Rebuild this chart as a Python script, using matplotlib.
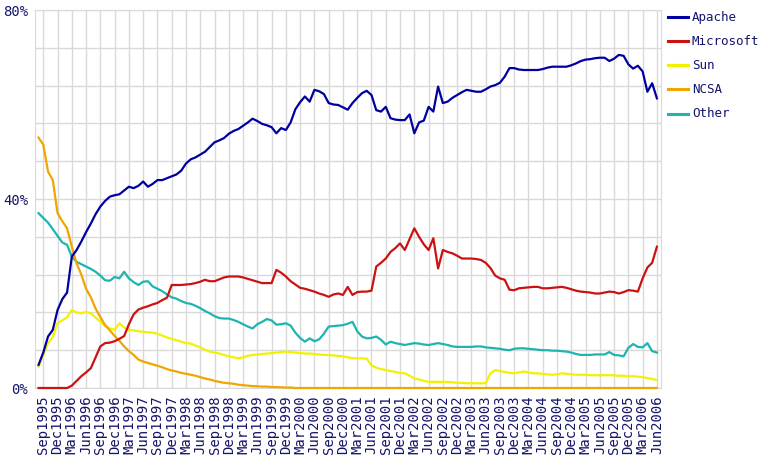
import matplotlib
matplotlib.use("Agg")
import matplotlib.pyplot as plt
from matplotlib.lines import Line2D

# monthly share (%), Aug 1995 .. Jun 2006
APACHE = [
    4.9, 7.5, 10.9, 12.3, 16.5, 18.8, 20.2, 27.8, 29.2, 31.0, 33.0, 34.8,
    36.8, 38.4, 39.6, 40.5, 40.8, 41.0, 41.8, 42.6, 42.3, 42.8, 43.7, 42.6,
    43.2, 44.0, 44.0, 44.4, 44.8, 45.2, 46.0, 47.5, 48.4, 48.8, 49.4, 50.0,
    51.0, 52.0, 52.4, 52.9, 53.8, 54.4, 54.8, 55.5, 56.2, 57.0, 56.5, 55.9,
    55.6, 55.2, 53.9, 55.0, 54.6, 56.2, 59.0, 60.5, 61.7, 60.6, 63.1, 62.8,
    62.2, 60.3, 60.0, 59.9, 59.4, 58.9, 60.3, 61.4, 62.4, 62.9, 62.0, 58.8,
    58.5, 59.5, 57.1, 56.8, 56.7, 56.7, 57.9, 53.9, 56.2, 56.6, 59.5, 58.5,
    63.8, 60.3, 60.6, 61.4, 62.0, 62.6, 63.1, 62.9, 62.7, 62.7, 63.2, 63.8,
    64.1, 64.6, 65.9, 67.7, 67.7, 67.4, 67.3, 67.3, 67.3, 67.3, 67.5, 67.8,
    68.0, 68.0, 68.0, 68.0, 68.3, 68.7, 69.2, 69.5, 69.6, 69.8, 69.9, 69.9,
    69.2, 69.7, 70.5, 70.3, 68.5, 67.6, 68.2, 67.0, 62.7, 64.5, 61.3,
]
MICROSOFT = [
    0, 0, 0, 0, 0, 0, 0, 0.5, 1.5, 2.5, 3.3, 4.2,
    6.5, 8.8, 9.5, 9.6, 9.9, 10.4, 11.0, 13.5, 15.6, 16.6, 17.0, 17.3,
    17.7, 18.0, 18.6, 19.1, 21.8, 21.8, 21.8, 21.9, 22.0, 22.2, 22.5, 22.9,
    22.6, 22.6, 23.0, 23.4, 23.6, 23.6, 23.6, 23.4, 23.1, 22.8, 22.5, 22.2,
    22.2, 22.2, 25.0, 24.4, 23.6, 22.6, 21.9, 21.2, 21.0, 20.7, 20.4, 20.0,
    19.7, 19.3, 19.8, 20.0, 19.7, 21.4, 19.7, 20.3, 20.4, 20.4, 20.6, 25.7,
    26.5, 27.4, 28.8, 29.6, 30.6, 29.2, 31.5, 33.8, 32.0, 30.4, 29.2, 31.7,
    25.3, 29.2, 28.8, 28.5, 28.0, 27.4, 27.4, 27.4, 27.3, 27.1, 26.5, 25.4,
    23.8, 23.2, 22.9, 20.8, 20.7, 21.1, 21.2, 21.3, 21.4, 21.4, 21.1, 21.1,
    21.2, 21.3, 21.4, 21.2, 20.9, 20.6, 20.4, 20.3, 20.2, 20.0, 20.0, 20.2,
    20.4, 20.3, 20.0, 20.3, 20.7, 20.6, 20.4, 23.2, 25.5, 26.5, 29.9,
]
SUN = [
    4.5, 7.0, 9.5, 10.8, 13.8, 14.3, 15.0, 16.5, 16.0, 15.8, 16.1, 15.8,
    14.9, 14.0, 13.1, 12.6, 12.3, 13.7, 12.8, 12.3, 12.2, 12.0, 11.9, 11.8,
    11.7, 11.5, 11.1, 10.7, 10.4, 10.1, 9.8, 9.5, 9.4, 9.0, 8.6, 8.1,
    7.7, 7.5, 7.3, 7.0, 6.7, 6.5, 6.3, 6.5, 6.8, 7.0, 7.1, 7.2,
    7.3, 7.4, 7.5, 7.6, 7.7, 7.6, 7.5, 7.4, 7.3, 7.3, 7.2, 7.1,
    7.0, 7.0, 6.9, 6.8, 6.7, 6.5, 6.3, 6.3, 6.3, 6.2, 4.8, 4.3,
    4.0, 3.8, 3.6, 3.4, 3.2, 3.1, 2.6, 2.0, 1.8, 1.5, 1.3, 1.3,
    1.3, 1.3, 1.3, 1.2, 1.1, 1.1, 1.0, 1.0, 1.0, 1.0, 1.0, 3.1,
    3.8, 3.6, 3.4, 3.2, 3.1, 3.3, 3.5, 3.3, 3.1, 3.1, 3.0, 2.9,
    2.8, 2.9, 3.1, 3.0, 2.9, 2.8, 2.8, 2.8, 2.7, 2.7, 2.7, 2.7,
    2.7, 2.7, 2.6, 2.6, 2.5, 2.5, 2.4, 2.3, 2.1, 1.9, 1.7,
]
NCSA = [
    53.0, 51.5, 45.8, 44.0, 37.0, 35.3, 33.8, 29.9, 26.4, 24.0, 21.0, 19.2,
    16.8, 15.0, 13.3, 12.2, 11.0, 10.0, 8.8, 7.8, 7.0, 6.0, 5.6, 5.3,
    5.0, 4.7, 4.4, 4.0, 3.7, 3.5, 3.2, 3.0, 2.8, 2.6, 2.3, 2.0,
    1.8, 1.5, 1.3, 1.1, 1.0, 0.9, 0.7, 0.6, 0.5, 0.4, 0.35, 0.3,
    0.3, 0.2, 0.2, 0.15, 0.1, 0.1, 0, 0, 0, 0, 0, 0,
    0, 0, 0, 0, 0, 0, 0, 0, 0, 0, 0, 0,
    0, 0, 0, 0, 0, 0, 0, 0, 0, 0, 0, 0,
    0, 0, 0, 0, 0, 0, 0, 0, 0, 0, 0, 0,
    0, 0, 0, 0, 0, 0, 0, 0, 0, 0, 0, 0,
    0, 0, 0, 0, 0, 0, 0, 0, 0, 0, 0, 0,
    0, 0, 0, 0, 0, 0, 0, 0, 0, 0, 0,
]
OTHER = [
    37.0, 36.0, 35.0, 33.6, 32.2, 30.8, 30.3, 27.8, 26.7, 26.2, 25.7, 25.2,
    24.6, 23.8, 22.8, 22.7, 23.5, 23.2, 24.6, 23.2, 22.4, 21.8, 22.5, 22.6,
    21.5, 21.0, 20.5, 19.8, 19.2, 18.9, 18.4, 18.0, 17.8, 17.4, 16.9, 16.3,
    15.8, 15.2, 14.8, 14.7, 14.7, 14.4, 14.0, 13.5, 13.0, 12.6, 13.5, 14.0,
    14.6, 14.3, 13.4, 13.5, 13.7, 13.2, 11.7, 10.6, 9.8, 10.5, 9.9, 10.3,
    11.5, 13.0, 13.1, 13.2, 13.3, 13.6, 14.0, 12.0, 10.9, 10.5, 10.6, 10.9,
    10.2, 9.2, 9.8, 9.5, 9.3, 9.1, 9.3, 9.5, 9.4, 9.2, 9.1, 9.3,
    9.5, 9.3, 9.1, 8.8, 8.7, 8.7, 8.7, 8.7, 8.8, 8.8, 8.6, 8.5,
    8.4, 8.3, 8.1, 8.0, 8.3, 8.4, 8.4, 8.3, 8.2, 8.1, 8.0, 8.0,
    7.9, 7.9, 7.8, 7.7, 7.5, 7.2, 7.0, 7.0, 7.0, 7.1, 7.1, 7.1,
    7.6, 7.0, 6.9, 6.7, 8.5, 9.3, 8.7, 8.6, 9.5, 7.8, 7.5,
]

SERIES = ["Apache", "Microsoft", "Sun", "NCSA", "Other"]
COLORS = ["#0000a0", "#cc1111", "#f2f200", "#f0a500", "#1eb4b0"]
YEARS = list(range(1995, 2007))
QUARTER_MONTHS = ["Mar", "Jun", "Sep", "Dec"]
TICK_LABELS = [f"{mo}{yr}" for yr in YEARS for mo in QUARTER_MONTHS][2:-2]

TXT = "#14146a"
plt.rcParams["font.family"] = ["DejaVu Sans Mono"]

fig = plt.figure(figsize=(7.68, 4.61), dpi=100)
ax = fig.add_axes([35 / 768, 73 / 461, 626 / 768, 378 / 461])

months = list(range(len(APACHE)))
data = [APACHE, MICROSOFT, SUN, NCSA, OTHER]
for vals, col, z in zip(data, COLORS, [6, 5, 3, 4, 2]):
    ax.plot(months, vals, color=col, lw=1.6, zorder=z, clip_on=False)

ax.set_xlim(-0.74, 130.86)
ax.set_ylim(0, 80)
ax.set_xticks(range(1, 131, 3))
ax.set_xticklabels(TICK_LABELS, rotation=90, fontsize=10, color=TXT)
ax.set_yticks(range(0, 81, 8))
ax.set_yticklabels([f"{v}%" if v % 40 == 0 else "" for v in range(0, 81, 8)],
                   fontsize=10, color=TXT)
ax.tick_params(length=0, pad=5)
ax.grid(True, color="#d9d9d9", lw=1)
ax.set_axisbelow(True)
for s in ax.spines.values():
    s.set_color("#d9d9d9")

# legend on the right
for i, (name, col) in enumerate(zip(SERIES, COLORS)):
    y = 1 - (17.5 + 24 * i) / 461
    fig.add_artist(Line2D([668 / 768, 688 / 768], [y, y], color=col, lw=2.2))
    fig.text(692 / 768, y, name, color=TXT, fontsize=9, va="center", ha="left")

fig.savefig("out.png", dpi=100)
